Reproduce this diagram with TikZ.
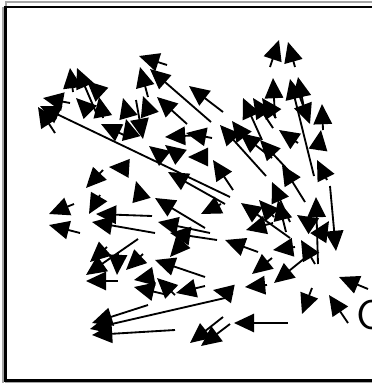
\documentclass[tikz,border=0pt]{standalone}
\usetikzlibrary{arrows.meta}

\begin{document}
\begin{tikzpicture}[
  x=0.02cm, y=-0.02cm,
  >={Triangle[length=11.5pt,width=10.5pt]},
  vec/.style={->,line width=1.05pt},
  rim/.style={draw,line width=1.2pt},
  shade/.style={draw=gray!70,line width=0.6pt}
]
\useasboundingbox (0,0) rectangle (372,383);
\clip (0,0) rectangle (372,383);

% frame, cut off at the right
\draw[shade] (6,7) -- (6,2) -- (380,2);
\draw[shade] (3,7) -- (3,390);
\draw[shade] (5,382.5) -- (380,382.5);
\draw[rim] (380,7) -- (5.5,7) -- (5.5,380.5) -- (380,380.5);

% the vectors: tail x/y, tip x/y
\foreach \tx/\ty/\hx/\hy in {
  167/65/139/56, 148/97/140/67, 211/122/150/69, 73/92/70/68, 98/117/77/68,
  99/92/87/81, 89/111/76/98, 103/118/99/97, 130/138/101/124, 131/138/126/119,
  127/112/123/98, 136/100/143/139, 148/110/143/96, 187/124/157/97, 223/112/189/86,
  212/138/186/133, 200/135/165/137, 207/157/188/157, 163/157/149/146, 178/155/165/145,
  230/197/40/106, 225/204/168/172, 124/168/109/167, 103/170/86/188, 140/195/136/181,
  74/204/49/214, 100/195/89/214, 80/233/49/225, 152/216/96/214, 155/233/92/222,
  107/247/90/262, 138/239/86/275, 118/253/117/275, 143/254/126/270, 118/281/86/281,
  150/277/134/280, 168/295/134/287, 175/295/157/278, 205/286/176/293, 233/294/213/290,
  148/305/92/323, 225/298/90/329, 175/330/92/335, 223/317/190/343, 230/324/201/346,
  288/323/234/323, 312/288/302/314, 348/323/329/295, 368/289/339/277,
  205/228/155/198, 221/204/201/214, 210/233/158/222, 217/240/170/233, 185/240/170/257,
  205/277/155/260, 258/252/225/240, 272/258/252/274, 305/258/274/283, 267/285/245/287,
  295/247/273/250, 315/264/301/240, 318/264/316/197, 319/237/329/221, 290/238/241/203,
  273/223/246/230, 274/217/259/200, 286/232/278/200, 312/225/297/215, 305/202/282/165,
  290/222/272/182, 233/190/213/160, 70/103/43/98, 55/133/38/107,
  270/67/279/40, 295/67/288/42, 275/118/273/78, 314/176/290/79, 306/118/298/77,
  298/92/310/124, 323/130/322/104, 318/150/321/130, 327/180/317/160, 330/186/336/251,
  298/143/279/130, 262/140/243/98, 273/128/253/98, 276/118/262/98, 266/176/220/125,
  250/145/232/121, 272/158/240/133, 288/170/260/140}
  \draw[vec] (\tx,\ty) -- (\hx,\hy);

\node[font=\sffamily\fontsize{24}{24}\selectfont,anchor=west,inner sep=0pt] (mark) at (356,315) {C};
\end{tikzpicture}
\end{document}
